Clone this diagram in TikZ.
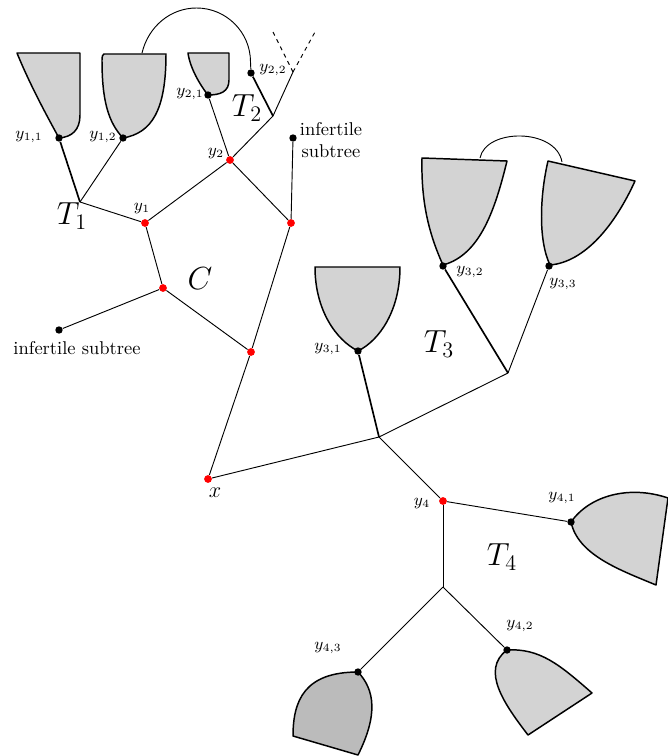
\documentclass[tikz,border=0pt]{standalone}
\definecolor{cupgray}{RGB}{211,211,211}
\definecolor{cupdark}{RGB}{187,187,187}
\begin{document}
\begin{tikzpicture}[x=0.019cm,y=-0.019cm,
  reddot/.style={circle,fill=red,inner sep=0pt,minimum size=4.2pt},
  blackdot/.style={circle,fill=black,inner sep=0pt,minimum size=4pt},
  junc/.style={coordinate},
  edge/.style={line width=0.5pt},
  thickedge/.style={line width=0.9pt},
  cup/.style={draw=black,line width=0.8pt,fill=cupgray,line join=round},
  darkcup/.style={cup,fill=cupdark},
  ylab/.style={font=\small,inner sep=0pt},
  tlab/.style={font=\fontsize{18}{20}\selectfont,inner sep=0pt},
  txt/.style={font=\normalsize,inner sep=0pt,align=center}]
\useasboundingbox (0,0) rectangle (668,756);

% ---- cups (subtrees) ----
\draw[cup] (17,53) -- (80,53) -- (80,115) .. controls (80,130) and (72,137) .. (59,138)
  .. controls (48,118) and (30,85) .. (17,53) -- cycle;
\draw[cup] (104,54) -- (166,54) .. controls (166,110) and (152,133) .. (123,138)
  .. controls (108,122) and (102,100) .. (102,60) .. controls (102,56) and (103,54) .. (104,54) -- cycle;
\draw[cup] (188,53) -- (229,53) -- (229,80) .. controls (229,92) and (220,95) .. (208,95)
  .. controls (200,85) and (190,68) .. (188,53) -- cycle;
\draw[cup] (315,267) -- (400,267) .. controls (400,310) and (380,340) .. (358,351)
  .. controls (336,340) and (315,310) .. (315,267) -- cycle;
\draw[cup] (422,158) -- (507,161) .. controls (495,210) and (480,255) .. (443,265)
  .. controls (428,232) and (421,200) .. (422,158) -- cycle;
\draw[cup] (548,161) -- (635,181) .. controls (615,225) and (585,262) .. (550,265)
  .. controls (538,240) and (540,195) .. (548,161) -- cycle;
\draw[cup] (571,522) .. controls (590,495) and (630,485) .. (668,498) -- (656,585)
  .. controls (620,570) and (578,555) .. (571,522) -- cycle;
\draw[cup] (507,650) .. controls (540,648) and (560,665) .. (592,693) -- (528,735)
  .. controls (505,705) and (480,670) .. (507,650) -- cycle;
\draw[darkcup] (358,672) .. controls (375,690) and (378,715) .. (358,755) -- (293,736)
  .. controls (293,700) and (305,672) .. (358,672) -- cycle;

% ---- vertices ----
\node[blackdot] (y11) at (59,138) {};
\node[blackdot] (y12) at (123,138) {};
\node[blackdot] (y21) at (208,95) {};
\node[blackdot] (y22) at (251,73) {};
\node[blackdot] (inf1) at (293,138) {};
\node[blackdot] (inf2) at (59,330) {};
\node[blackdot] (y31) at (358,351) {};
\node[blackdot] (y32) at (443,266) {};
\node[blackdot] (y33) at (549,266) {};
\node[blackdot] (y41) at (571,522) {};
\node[blackdot] (y42) at (507,650) {};
\node[blackdot] (y43) at (358,672) {};
\node[reddot] (y1) at (145,223) {};
\node[reddot] (y2) at (230,160) {};
\node[reddot] (r1) at (291,223) {};
\node[reddot] (r2) at (163,288) {};
\node[reddot] (r3) at (251,352) {};
\node[reddot] (x) at (208,479) {};
\node[reddot] (y4) at (443,501) {};
\node[junc] (t1) at (80,202) {};
\node[junc] (t2) at (273,116) {};
\node[junc] (t2b) at (293,72) {};
\node[junc] (d1) at (273,32) {};
\node[junc] (d2) at (315,32) {};
\node[junc] (t3) at (379,437) {};
\node[junc] (t3b) at (508,373) {};
\node[junc] (t4) at (443,587) {};
\node[junc] (a1) at (142,53) {};
\node[junc] (a2) at (480,158) {};
\node[junc] (a3) at (562,162) {};

% ---- arcs ----
\draw[edge] (a1) .. controls (148.4,26.3) and (170.6,8) .. (196.5,8)
  .. controls (226.3,8) and (250.5,32.2) .. (250.5,62) -- (y22);
\draw[edge] (a2) .. controls (486,128) and (556,128) .. (a3);

% ---- edges ----
\draw[thickedge] (y11) -- (t1);
\draw[edge] (y12) -- (t1);
\draw[edge] (t1) -- (y1);
\draw[edge] (y1) -- (y2);
\draw[edge] (y21) -- (y2);
\draw[thickedge] (y22) -- (t2);
\draw[edge] (t2) -- (t2b);
\draw[edge] (t2) -- (y2);
\draw[edge,dash pattern=on 2.2pt off 2.2pt] (t2b) -- (d1);
\draw[edge,dash pattern=on 2.2pt off 2.2pt] (t2b) -- (d2);
\draw[edge] (y2) -- (r1);
\draw[edge] (inf1) -- (r1);
\draw[edge] (y1) -- (r2);
\draw[edge] (r2) -- (inf2);
\draw[edge] (r2) -- (r3);
\draw[edge] (r1) -- (r3);
\draw[edge] (r3) -- (x);
\draw[edge] (x) -- (t3);
\draw[thickedge] (y31) -- (t3);
\draw[edge] (t3) -- (t3b);
\draw[thickedge] (y32) -- (t3b);
\draw[edge] (y33) -- (t3b);
\draw[edge] (t3) -- (y4);
\draw[edge] (y4) -- (y41);
\draw[edge] (y4) -- (t4);
\draw[edge] (t4) -- (y43);
\draw[edge] (t4) -- (y42);

% ---- labels ----
\node[ylab] (ly11) at (29,137) {$y_{1,1}$};
\node[ylab] (ly12) at (103,137) {$y_{1,2}$};
\node[ylab] (ly21) at (190,94) {$y_{2,1}$};
\node[ylab] (ly22) at (273,70) {$y_{2,2}$};
\node[ylab] (ly2) at (216,154) {$y_2$};
\node[ylab] (ly1) at (142,209) {$y_1$};
\node[ylab] (ly31) at (328,349) {$y_{3,1}$};
\node[ylab] (ly32) at (470,272) {$y_{3,2}$};
\node[ylab] (ly33) at (563,284) {$y_{3,3}$};
\node[ylab] (ly4) at (422,504) {$y_4$};
\node[ylab] (ly41) at (562,498) {$y_{4,1}$};
\node[ylab] (ly42) at (520,626) {$y_{4,2}$};
\node[ylab] (ly43) at (328,648) {$y_{4,3}$};
\node[tlab] (lT1) at (72,216) {$T_1$};
\node[tlab] (lT2) at (247,108) {$T_2$};
\node[tlab] (lT3) at (439,344) {$T_3$};
\node[tlab] (lT4) at (502,557) {$T_4$};
\node[tlab] (lC) at (200,279) {$C$};
\node[font=\large,inner sep=0pt] (lx) at (215,493) {$x$};
\node[txt] (linf1) at (331,140) {infertile\\subtree};
\node[txt] (linf2) at (77,348) {infertile subtree};
\end{tikzpicture}
\end{document}
